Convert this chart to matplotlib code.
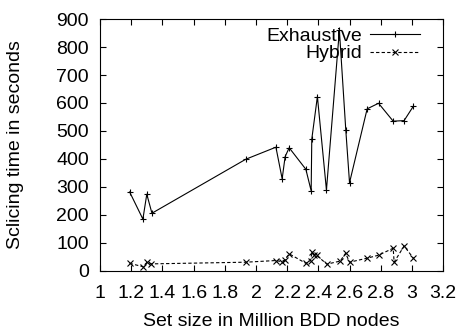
import matplotlib.pyplot as plt

plt.rcParams['font.family'] = ['Liberation Sans', 'DejaVu Sans']

# Exhaustive slicing
ex_x = [1.19, 1.275, 1.30, 1.333, 1.935, 2.128, 2.168, 2.187, 2.213, 2.32, 2.354,
        2.358, 2.394, 2.452, 2.535, 2.576, 2.60, 2.713, 2.786, 2.88, 2.95, 3.01]
ex_y = [282, 185, 274, 206, 399, 442, 329, 408, 440, 363, 286,
        471, 623, 289, 860, 504, 315, 579, 599, 535, 537, 589]

# Hybrid slicing
hy_x = [1.19, 1.275, 1.30, 1.328, 1.935, 2.128, 2.165, 2.185, 2.213, 2.32, 2.35, 2.36,
        2.37, 2.39, 2.455, 2.54, 2.575, 2.60, 2.71, 2.786, 2.88, 2.886, 2.95, 3.01]
hy_y = [27, 15, 30, 25, 31, 37, 33, 39, 61, 27, 37, 67,
        58, 55, 24, 35, 63, 31, 45, 56, 81, 31, 89, 45]

xticks = [1, 1.2, 1.4, 1.6, 1.8, 2, 2.2, 2.4, 2.6, 2.8, 3, 3.2]
yticks = [0, 100, 200, 300, 400, 500, 600, 700, 800, 900]

fig = plt.figure(figsize=(4.63, 3.34), dpi=100)
ax = fig.add_axes([0.216, 0.189, 0.741, 0.754])

ax.plot(ex_x, ex_y, color='black', linestyle='-', linewidth=0.8,
        marker='+', markersize=5, markeredgewidth=0.8, label='Exhaustive')
ax.plot(hy_x, hy_y, color='black', linestyle=(0, (3, 2)), linewidth=0.8,
        marker='x', markersize=4, markeredgewidth=0.8, label='Hybrid')

ax.set_xlim(1, 3.2)
ax.set_ylim(0, 900)
ax.set_xticks(xticks)
ax.set_xticklabels([f'{t:g}' for t in xticks])
ax.set_yticks(yticks)
ax.tick_params(direction='in', top=True, right=True, labelsize=14, length=4, width=0.8)
ax.tick_params(axis='x', pad=10)
ax.tick_params(axis='y', pad=8)
for s in ax.spines.values():
    s.set_linewidth(0.8)

ax.set_xlabel('Set size in Million BDD nodes', fontsize=14)
ax.set_ylabel('Sclicing time in seconds', fontsize=14)
ax.xaxis.set_label_coords(0.5, -0.168)
ax.yaxis.set_label_coords(-0.222, 0.5)

ax.legend(loc='upper right', bbox_to_anchor=(0.933, 0.968), frameon=False,
          markerfirst=False, fontsize=14, handlelength=2.6, handletextpad=0.4,
          labelspacing=0, borderaxespad=0, borderpad=0)

fig.savefig('out.png', dpi=100)
